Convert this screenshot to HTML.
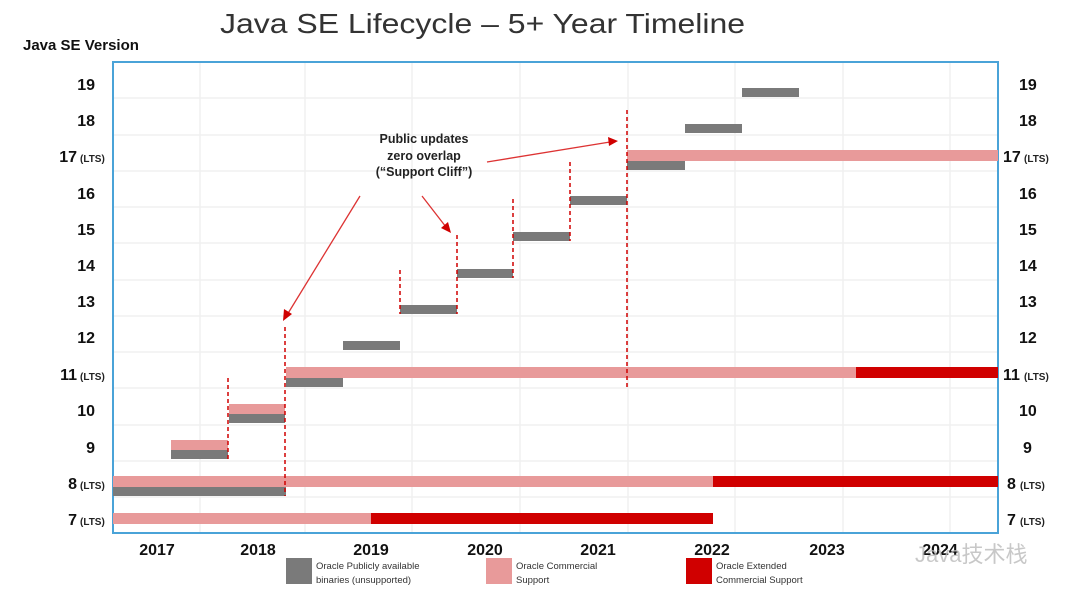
<!DOCTYPE html>
<html><head><meta charset="utf-8"><style>
body{margin:0;background:#fff;}
svg{display:block;font-family:"Liberation Sans","Noto Sans CJK SC",sans-serif;}
</style></head><body>
<svg width="1083" height="594" viewBox="0 0 1083 594">
<text x="220" y="33" textLength="525" lengthAdjust="spacingAndGlyphs" font-size="28" fill="#333">Java SE Lifecycle – 5+ Year Timeline</text>
<text x="23" y="50" font-size="15" font-weight="bold" fill="#111">Java SE Version</text>
<g stroke="#f0f0f0" stroke-width="1.5">
<line x1="200" y1="63" x2="200" y2="532"/><line x1="305" y1="63" x2="305" y2="532"/><line x1="412" y1="63" x2="412" y2="532"/><line x1="520" y1="63" x2="520" y2="532"/><line x1="628" y1="63" x2="628" y2="532"/><line x1="735" y1="63" x2="735" y2="532"/><line x1="843" y1="63" x2="843" y2="532"/><line x1="950" y1="63" x2="950" y2="532"/>
<line x1="114" y1="98" x2="997" y2="98"/><line x1="114" y1="135" x2="997" y2="135"/><line x1="114" y1="171" x2="997" y2="171"/><line x1="114" y1="207" x2="997" y2="207"/><line x1="114" y1="243" x2="997" y2="243"/><line x1="114" y1="280" x2="997" y2="280"/><line x1="114" y1="316" x2="997" y2="316"/><line x1="114" y1="352" x2="997" y2="352"/><line x1="114" y1="388" x2="997" y2="388"/><line x1="114" y1="425" x2="997" y2="425"/><line x1="114" y1="461" x2="997" y2="461"/><line x1="114" y1="497" x2="997" y2="497"/>
</g>
<rect x="113" y="62" width="885" height="471" fill="none" stroke="#4aa3d8" stroke-width="2"/>
<g>
<rect x="742" y="88" width="57" height="9" fill="#7a7a7a"/>
<rect x="685" y="124" width="57" height="9" fill="#7a7a7a"/>
<rect x="627" y="150" width="371" height="11" fill="#e89a9a"/>
<rect x="627" y="161" width="58" height="9" fill="#7a7a7a"/>
<rect x="570" y="196" width="57" height="9" fill="#7a7a7a"/>
<rect x="513" y="232" width="57" height="9" fill="#7a7a7a"/>
<rect x="457" y="269" width="56" height="9" fill="#7a7a7a"/>
<rect x="400" y="305" width="57" height="9" fill="#7a7a7a"/>
<rect x="343" y="341" width="57" height="9" fill="#7a7a7a"/>
<rect x="286" y="367" width="570" height="11" fill="#e89a9a"/>
<rect x="856" y="367" width="142" height="11" fill="#d00000"/>
<rect x="286" y="378" width="57" height="9" fill="#7a7a7a"/>
<rect x="229" y="404" width="56" height="10" fill="#e89a9a"/>
<rect x="229" y="414" width="56" height="9" fill="#7a7a7a"/>
<rect x="171" y="440" width="57" height="10" fill="#e89a9a"/>
<rect x="171" y="450" width="57" height="9" fill="#7a7a7a"/>
<rect x="113" y="476" width="600" height="11" fill="#e89a9a"/>
<rect x="713" y="476" width="285" height="11" fill="#d00000"/>
<rect x="113" y="487" width="173" height="9" fill="#7a7a7a"/>
<rect x="113" y="513" width="258" height="11" fill="#e89a9a"/>
<rect x="371" y="513" width="342" height="11" fill="#d00000"/>
</g>
<g stroke="#d00000" stroke-width="1.5" stroke-dasharray="4,3">
<line x1="228" y1="378" x2="228" y2="459"/><line x1="285" y1="327" x2="285" y2="496"/>
<line x1="400" y1="270" x2="400" y2="314"/><line x1="457" y1="235" x2="457" y2="314"/>
<line x1="513" y1="199" x2="513" y2="278"/><line x1="570" y1="162" x2="570" y2="241"/>
<line x1="627" y1="110" x2="627" y2="387"/>
</g>
<g stroke="#d33" stroke-width="1.3" fill="#d00000">
<line x1="360" y1="196" x2="287" y2="315"/><polygon points="283,321 284,309 292,314" stroke="none"/>
<line x1="422" y1="196" x2="446" y2="227"/><polygon points="451,233 441,228 448,222" stroke="none"/>
<line x1="487" y1="162" x2="610" y2="142"/><polygon points="618,141 608,137 609,146" stroke="none"/>
</g>
<g font-size="12.5" font-weight="bold" fill="#222" text-anchor="middle">
<text x="424" y="143">Public updates</text><text x="424" y="160">zero overlap</text><text x="424" y="176">(“Support Cliff”)</text>
</g>
<g font-size="16" font-weight="bold" fill="#111">
<g text-anchor="end">
<text x="95" y="90">19</text><text x="95" y="126">18</text><text x="77" y="162">17</text><text x="95" y="199">16</text><text x="95" y="235">15</text><text x="95" y="271">14</text><text x="95" y="307">13</text><text x="95" y="343">12</text><text x="77" y="380">11</text><text x="95" y="416">10</text><text x="95" y="453">9</text><text x="77" y="489">8</text><text x="77" y="525">7</text>
</g>
<text x="1019" y="90">19</text><text x="1019" y="126">18</text><text x="1003" y="162">17</text><text x="1019" y="199">16</text><text x="1019" y="235">15</text><text x="1019" y="271">14</text><text x="1019" y="307">13</text><text x="1019" y="343">12</text><text x="1003" y="380">11</text><text x="1019" y="416">10</text><text x="1023" y="453">9</text><text x="1007" y="489">8</text><text x="1007" y="525">7</text>
</g>
<g font-size="10" font-weight="bold" fill="#222">
<text x="80" y="162">(LTS)</text><text x="80" y="380">(LTS)</text><text x="80" y="489">(LTS)</text><text x="80" y="525">(LTS)</text>
<text x="1024" y="162">(LTS)</text><text x="1024" y="380">(LTS)</text><text x="1020" y="489">(LTS)</text><text x="1020" y="525">(LTS)</text>
</g>
<g font-size="16" font-weight="bold" fill="#111" text-anchor="middle">
<text x="157" y="555">2017</text><text x="258" y="555">2018</text><text x="371" y="555">2019</text><text x="485" y="555">2020</text><text x="598" y="555">2021</text><text x="712" y="555">2022</text><text x="827" y="555">2023</text><text x="940" y="555">2024</text>
</g>
<rect x="286" y="558" width="26" height="26" fill="#7a7a7a"/>
<rect x="486" y="558" width="26" height="26" fill="#e89a9a"/>
<rect x="686" y="558" width="26" height="26" fill="#d00000"/>
<g font-size="9.5" fill="#333">
<text x="316" y="569">Oracle Publicly available</text><text x="316" y="583">binaries (unsupported)</text>
<text x="516" y="569">Oracle Commercial</text><text x="516" y="583">Support</text>
<text x="716" y="569">Oracle Extended</text><text x="716" y="583">Commercial Support</text>
</g>
<text x="915" y="562" font-size="22" fill="#bbb" opacity="0.8">Java技术栈</text>
</svg>
</body></html>
